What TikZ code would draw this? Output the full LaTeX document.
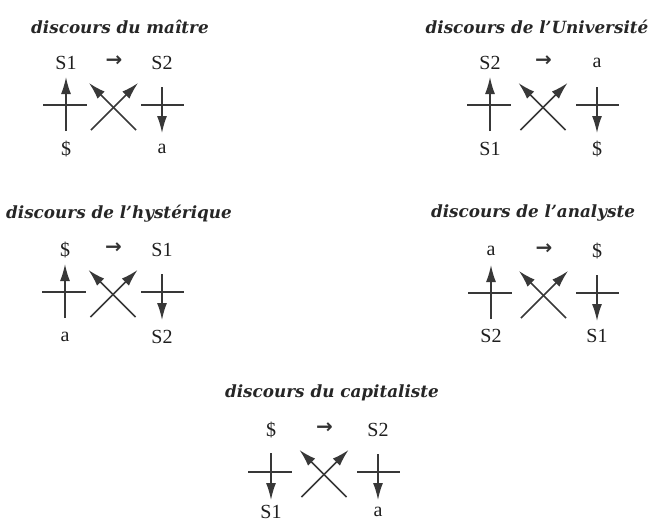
\documentclass[tikz,border=0pt]{standalone}
\usepackage{fontspec}
\setmainfont{Liberation Serif}
\newfontfamily\arrowfont{DejaVu Sans}
\newfontfamily\titlefont{DejaVu Serif}
\usetikzlibrary{arrows.meta}
\tikzset{
  ttl/.style={font=\titlefont\fontsize{16.8}{20}\selectfont\bfseries\itshape, inner sep=0pt, anchor=base, text=black!85},
  lab/.style={font=\fontsize{20}{23}\selectfont, inner sep=0pt, text=black!88},
  arw/.style={font=\arrowfont\fontsize{20}{22}\selectfont\bfseries, inner sep=0pt, text=black!80},
  ln/.style={line width=1.5pt, draw=black!78},
  arr/.style={ln, -{Latex[length=17pt,width=10pt]}},
}
\newif\ifleftup
% #1 prefix, #2 L, #3 R, #4 y0, #5 title x, #6 title baseline y, #7 title, #8 bottom offset, #9 {TL}{TR}{BL}{BR}
\newcommand\discours[9]{%
  \pgfmathsetmacro\cx{(#2+#3)/2}%
  \node[ttl] (#1-t) at (#5,#6) {#7};
  \dlabels{#1}{#2}{#3}{#4}{#8}#9%
  \ifleftup
    \coordinate (#1-la) at (#2,#4+14);
    \coordinate (#1-lb) at (#2,#4+68);
  \else
    \coordinate (#1-la) at (#2,#4+23);
    \coordinate (#1-lb) at (#2,#4+70);
  \fi
  \coordinate (#1-ra) at (#3,#4+24);
  \coordinate (#1-rb) at (#3,#4+70);
  \coordinate (#1-l1) at (#2-23,#4+42);
  \coordinate (#1-l2) at (#2+21,#4+42);
  \coordinate (#1-r1) at (#3-21,#4+42);
  \coordinate (#1-r2) at (#3+22,#4+42);
  \coordinate (#1-c1) at (\cx-23,#4+67);
  \coordinate (#1-c2) at (\cx+24,#4+20);
  \coordinate (#1-c3) at (\cx+22,#4+67);
  \coordinate (#1-c4) at (\cx-25,#4+20);
  \draw[ln] (#1-l1) -- (#1-l2);
  \draw[ln] (#1-r1) -- (#1-r2);
  \ifleftup
    \draw[arr] (#1-lb) -- (#1-la);
  \else
    \draw[arr] (#1-la) -- (#1-lb);
  \fi
  \draw[arr] (#1-ra) -- (#1-rb);
  \draw[arr] (#1-c1) -- (#1-c2);
  \draw[arr] (#1-c3) -- (#1-c4);
}
% #1 prefix, #2 L, #3 R, #4 y0, #5 bottom offset, #6 TL, #7 TR, #8 BL, #9 BR
\newcommand\dlabels[9]{%
  \node[lab] (#1-tl) at (#2,#4) {#6};
  \node[arw] (#1-ar) at (\cx,#4-2) {→};
  \node[lab] (#1-tr) at (#3,#4) {#7};
  \node[lab] (#1-bl) at (#2,#4+#5) {#8};
  \node[lab] (#1-br) at (#3,#4+#5) {#9};
}
\begin{document}
\begin{tikzpicture}[x=1pt,y=-1pt]
  \useasboundingbox (0,0) rectangle (657,523);
  \leftuptrue
  \discours{m}{66}{162}{63}{120}{33}{discours du maître}{86}{{S1}{S2}{\$}{a}}
  \discours{u}{490}{597}{63}{537}{33}{discours de l’Université}{86}{{S2}{a}{S1}{\$}}
  \discours{h}{65}{162}{250}{119}{218}{discours de l’hystérique}{87}{{\$}{S1}{a}{S2}}
  \discours{an}{491}{597}{251}{533}{217}{discours de l’analyste}{85}{{a}{\$}{S2}{S1}}
  \leftupfalse
  \discours{c}{271}{378}{430}{332}{397}{discours du capitaliste}{82}{{\$}{S2}{S1}{a}}
\end{tikzpicture}
\end{document}
